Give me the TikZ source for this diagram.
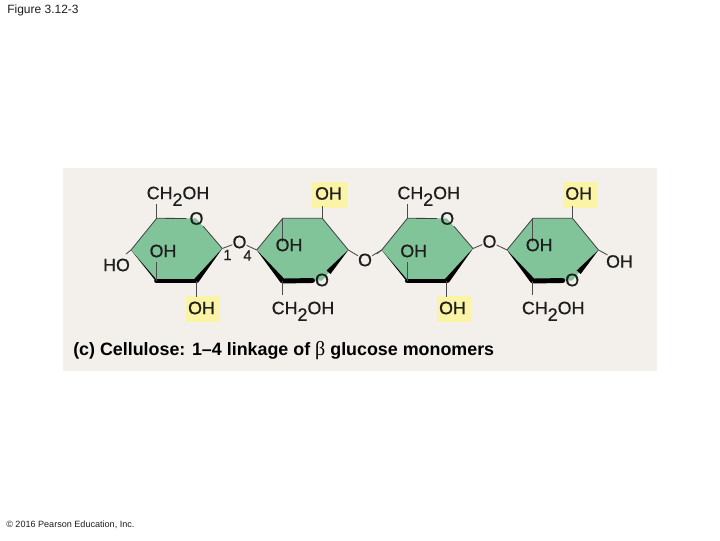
\documentclass[tikz,border=0pt]{standalone}
\usepackage{fontspec}
\setmainfont{Liberation Sans}
\newfontface\lblface[FakeBold=0.6]{Liberation Sans}
\newfontface\betaface{Liberation Serif}
\usetikzlibrary{calc}
\definecolor{panel}{HTML}{F3F0EB}
\definecolor{ringgreen}{HTML}{82C49A}
\definecolor{hilite}{HTML}{FBF3A6}
\definecolor{inkc}{HTML}{1E1E1E}
\tikzset{
  lbl/.style={inner sep=0pt,font=\lblface\fontsize{13.4pt}{14pt}\selectfont,text=inkc},
  hl/.style={fill=hilite,inner sep=0pt,minimum width=26pt,minimum height=19.5pt},
  oring/.style={lbl,inner sep=0.2pt,circle},
  bond/.style={draw=inkc!80,line width=0.65pt},
  ringline/.style={draw=inkc!85,line width=0.6pt},
  wedgeb/.style={draw=black,line width=3.7pt,line cap=round},
  wedgefill/.style={fill=black},
  titletxt/.style={inner sep=0pt,font=\fontsize{9pt}{10pt}\selectfont,text=inkc,anchor=west},
  tiny/.style={inner sep=0pt,font=\fontsize{6.8pt}{8pt}\selectfont,text=inkc,anchor=west},
  num/.style={inner sep=0pt,font=\lblface\fontsize{11pt}{12pt}\selectfont,text=inkc},
  capt/.style={inner sep=0pt,font=\fontsize{13.4pt}{14pt}\selectfont\bfseries,text=black,anchor=west}
}
\newcommand{\chtwo}{CH\raisebox{-0.7ex}[0pt][0pt]{2}OH}
% ring with the O at its upper right
\newcommand{\ringA}[1]{%
  \begin{scope}[xshift=#1*0.75pt]
    \coordinate (tl) at (156.7,218.3);
    \coordinate (tr) at (196,218.3);
    \coordinate (r) at (222.3,248.5);
    \coordinate (br) at (196,281);
    \coordinate (bl) at (156.7,281);
    \coordinate (l) at (131,250);
    \fill[ringgreen] (tl) -- (tr) -- (r) -- (br) -- (bl) -- (l) -- cycle;
    \node[oring] (oa) at (196.5,218.5) {O};
    \draw[ringline] (oa) -- (tl) -- (l);
    \draw[ringline] (oa) -- (r);
    \fill[wedgefill] (l) -- ($(bl)+(-2.2,-1.5)$) -- ($(bl)+(2.2,1.5)$) -- cycle;
    \fill[wedgefill] (r) -- ($(br)+(2.2,1.5)$) -- ($(br)+(-2.2,-1.5)$) -- cycle;
    \draw[wedgeb] (bl) -- (br);
    \draw[bond] (tl) -- ++(0,-14);
    \draw[bond] (bl) -- ++(0,-19);
    \draw[bond] (br) -- ++(0,16);
    \draw[bond] (l) -- ++(-5,4);
    \node[lbl] at (178,193) {\chtwo};
    \node[lbl] at (163,251) {OH};
  \end{scope}}
% ring with the O at its lower right
\newcommand{\ringB}[1]{%
  \begin{scope}[xshift=#1*0.75pt]
    \coordinate (l) at (256.7,250);
    \coordinate (tl) at (282.7,218.3);
    \coordinate (tr) at (322.3,218.3);
    \coordinate (r) at (348.3,250);
    \coordinate (o) at (322,280.5);
    \coordinate (bl) at (282.7,281);
    \fill[ringgreen] (l) -- (tl) -- (tr) -- (r) -- (o) -- (bl) -- cycle;
    \node[oring] (ob) at (322,280) {O};
    \draw[ringline] (l) -- (tl) -- (tr) -- (r);
    \fill[wedgefill] (l) -- ($(bl)+(-2.2,1.5)$) -- ($(bl)+(2.2,-1.5)$) -- cycle;
    \fill[wedgefill] (r) -- ($(o)+(8.5,-6.5)$) -- ($(o)+(4.5,-10)$) -- cycle;
    \draw[wedgeb] (bl) -- ($(o)+(-9.5,0)$);
    \draw[bond] (tl) -- ++(0,24);
    \draw[bond] (tr) -- ++(0,-12);
    \draw[bond] (bl) -- ++(0,14);
    \node[lbl] at (289,245) {OH};
    \node[lbl] at (303,308) {\chtwo};
  \end{scope}}
\begin{document}
\begin{tikzpicture}[x=0.75pt,y=-0.75pt]
\useasboundingbox (0,0) rectangle (720,540);
\fill[white] (0,0) rectangle (720,540);
\node[titletxt] (title) at (7,10.5) {Figure 3.12-3};
\fill[panel] (63,168) rectangle (657,371);
% highlights
\node[hl] (h1) at (329.5,195) {};
\node[hl] (h2) at (203,309) {};
\node[hl] (h3) at (580,195) {};
\node[hl] (h4) at (454,309) {};
\ringA{0}
\ringB{0}
\ringA{250.7}
\ringB{250.2}
\node[lbl] at (328.5,193.5) {OH};
\node[lbl] at (201.5,308) {OH};
\node[lbl] at (578.7,193.5) {OH};
\node[lbl] at (452.5,308) {OH};
% bridging oxygens
\node[lbl] (o1) at (239.5,242) {O};
\node[lbl] (o2) at (365,260) {O};
\node[lbl] (o3) at (489.5,241.5) {O};
\coordinate (r1) at (222.3,248.5);
\coordinate (l2) at (256.7,250);
\coordinate (r2) at (348.3,250);
\coordinate (l3) at (381.7,250);
\coordinate (r3) at (473,248.5);
\coordinate (l4) at (506.9,250);
\coordinate (r4) at (598.5,250);
\draw[bond] (r1) -- (o1);
\draw[bond] (l2) -- (o1);
\draw[bond] (r2) -- (o2);
\draw[bond] (l3) -- (o2);
\draw[bond] (r3) -- (o3);
\draw[bond] (l4) -- (o3);
\node[lbl] (ho) at (116.5,265) {HO};
\node[lbl] (oh) at (619.5,261.5) {OH};
\draw[bond] (r4) -- (oh);
\node[num] at (227.5,255) {1};
\node[num] at (247.5,255.5) {4};
\node[capt] (cap) at (73,350.5) {(c) Cellulose: 1–4 linkage of {\betaface\fontsize{15pt}{14pt}\selectfont β} glucose monomers};
\node[tiny] (foot) at (6,524.5) {© 2016 Pearson Education, Inc.};
\end{tikzpicture}
\end{document}
